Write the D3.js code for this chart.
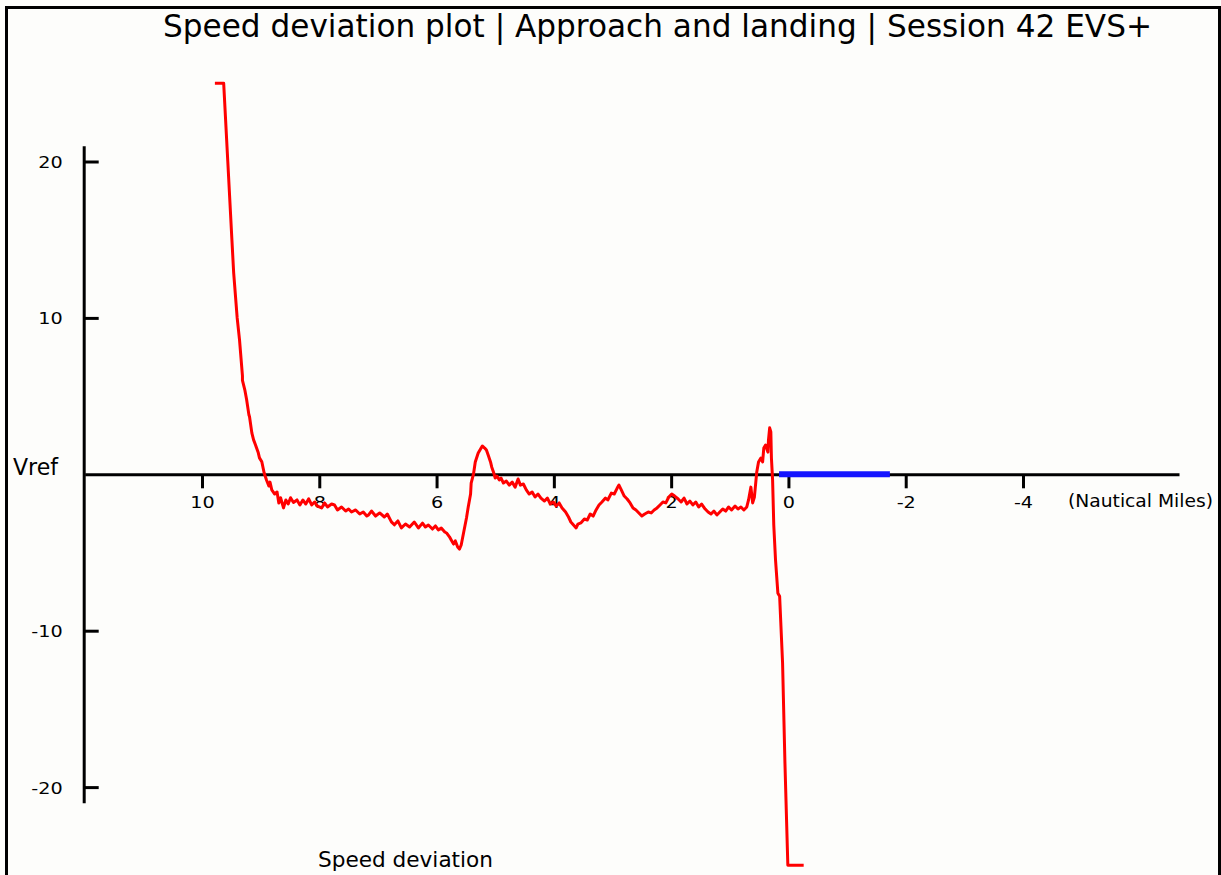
<!DOCTYPE html>
<html>
<head>
<meta charset="utf-8">
<script src="https://cdn.jsdelivr.net/npm/d3@7"></script>
<style>
  html, body { margin: 0; padding: 0; background: #fdfdfb; }
  svg { display: block; }
  text { font-family: "DejaVu Sans", Verdana, sans-serif; fill: #000; }
</style>
</head>
<body>
<svg id="chart" width="1221" height="875"></svg>
<script>
// ---- Data ----
const chartTitle = "Speed deviation plot | Approach and landing | Session 42 EVS+";
const xAxisLabel = "(Nautical Miles)";
const seriesLabel = "Speed deviation";
const zeroLabel = "Vref";
const xTickValues = [10, 8, 6, 4, 2, 0, -2, -4];
const yTickValues = [20, 10, -10, -20];

// red trace: [distance to threshold (NM), speed deviation from Vref (kt)]
const speedTrace = [
[9.78,25],[9.63,25],[9.56,20.0],[9.49,15.0],[9.46,12.9],[9.40,10.0],[9.36,8.6],[9.31,6.3],[9.31,6.0],[9.27,5.4],
[9.24,4.8],[9.20,3.8],[9.19,3.7],[9.15,2.65],[9.12,2.2],[9.09,1.9],[9.04,1.37],[9.02,1.05],[8.98,0.8],[8.94,0.08],
[8.90,-0.36],[8.86,-0.75],[8.84,-0.5],[8.81,-1.0],[8.76,-1.26],[8.72,-1.13],[8.69,-1.84],[8.66,-1.5],[8.61,-2.15],[8.57,-1.64],
[8.53,-1.9],[8.49,-1.5],[8.44,-1.8],[8.38,-1.64],[8.33,-1.96],[8.28,-1.64],[8.23,-1.9],[8.18,-1.57],[8.13,-1.96],[8.08,-1.77],
[8.03,-2.03],[7.96,-2.15],[7.91,-1.83],[7.86,-2.09],[7.79,-1.9],[7.74,-1.96],[7.69,-2.28],[7.62,-2.09],[7.55,-2.35],[7.50,-2.22],
[7.45,-2.41],[7.38,-2.28],[7.31,-2.54],[7.25,-2.41],[7.19,-2.67],[7.16,-2.6],[7.11,-2.35],[7.04,-2.67],[6.97,-2.47],[6.89,-2.73],
[6.84,-2.54],[6.77,-3.04],[6.72,-3.23],[6.66,-2.98],[6.60,-3.43],[6.53,-3.18],[6.46,-3.37],[6.38,-3.05],[6.31,-3.43],[6.24,-3.12],
[6.19,-3.37],[6.14,-3.24],[6.07,-3.5],[6.02,-3.3],[5.97,-3.56],[5.92,-3.43],[5.86,-3.69],[5.83,-3.75],[5.78,-4.0],[5.75,-4.2],
[5.71,-4.46],[5.68,-4.26],[5.64,-4.65],[5.61,-4.78],[5.58,-4.52],[5.54,-3.75],[5.49,-2.79],[5.46,-2.09],[5.42,-1.26],[5.41,-0.56],
[5.37,0.02],[5.34,0.79],[5.29,1.36],[5.25,1.62],[5.22,1.81],[5.18,1.68],[5.15,1.55],[5.12,1.23],[5.08,0.79],[5.06,0.47],
[5.03,0.15],[5.00,-0.24],[4.97,-0.11],[4.93,-0.36],[4.90,-0.24],[4.86,-0.56],[4.81,-0.43],[4.76,-0.69],[4.71,-0.5],[4.66,-0.82],
[4.61,-0.3],[4.57,-0.69],[4.52,-0.62],[4.47,-1.0],[4.42,-1.26],[4.37,-1.13],[4.32,-1.45],[4.27,-1.26],[4.22,-1.52],[4.16,-1.71],
[4.11,-1.52],[4.06,-1.9],[4.01,-1.77],[3.96,-2.03],[3.91,-1.83],[3.86,-2.15],[3.80,-2.41],[3.75,-2.73],[3.71,-3.05],[3.65,-3.3],
[3.62,-3.43],[3.59,-3.18],[3.54,-3.11],[3.48,-2.86],[3.43,-2.92],[3.38,-2.54],[3.33,-2.67],[3.28,-2.28],[3.23,-1.96],[3.18,-1.77],
[3.12,-1.52],[3.08,-1.64],[3.02,-1.2],[2.97,-1.26],[2.92,-0.88],[2.89,-0.69],[2.85,-1.0],[2.80,-1.39],[2.75,-1.58],[2.70,-1.83],
[2.65,-2.15],[2.60,-2.28],[2.55,-2.47],[2.50,-2.67],[2.45,-2.54],[2.39,-2.41],[2.34,-2.47],[2.29,-2.28],[2.24,-2.15],[2.19,-1.96],
[2.14,-1.77],[2.09,-1.83],[2.04,-1.45],[1.99,-1.26],[1.94,-1.39],[1.88,-1.58],[1.83,-1.77],[1.78,-1.52],[1.73,-1.9],[1.68,-1.71],
[1.63,-1.96],[1.58,-1.77],[1.53,-2.09],[1.48,-1.9],[1.42,-2.22],[1.37,-2.41],[1.32,-2.54],[1.27,-2.35],[1.22,-2.6],[1.17,-2.41],
[1.12,-2.22],[1.07,-2.35],[1.02,-2.09],[0.97,-2.28],[0.91,-2.03],[0.86,-2.22],[0.81,-2.09],[0.76,-2.28],[0.71,-2.09],[0.68,-1.64],
[0.64,-0.82],[0.61,-1.83],[0.58,-1.45],[0.54,0.15],[0.51,0.79],[0.47,1.04],[0.44,0.79],[0.42,1.68],[0.39,1.87],[0.35,1.42],
[0.34,2.2],[0.32,2.97],[0.30,2.71],[0.29,1.04],[0.27,-0.36],[0.25,-3.24],[0.22,-5.48],[0.18,-7.6],[0.15,-7.8],[0.10,-12.05],
[0.06,-18.4],[0.01,-25],[-0.26,-25]
];

// blue segment (rollout at Vref)
const rolloutNM = [0.16, -1.73];
const rolloutDev = [0, 0];

// ---- Drawing ----
const svg = d3.select("#chart");

// scales
const x = d3.scaleLinear().domain([12, -6.66]).range([84.7, 1179]);
const y = d3.scaleLinear().domain([-25, 25]).range([865.3, 83.3]);
const xAxisScale = x.copy();
const yAxisScale = d3.scaleLinear().domain([-21, 21]).range([y(-21), y(21)]);

// frame
svg.append("rect")
  .attr("x", 6.5).attr("y", 7.5)
  .attr("width", 1213).attr("height", 900)
  .attr("fill", "none").attr("stroke", "#000").attr("stroke-width", 3);

function stretch(sel, factor) {
  sel.each(function () {
    const w = this.getComputedTextLength();
    d3.select(this).attr("textLength", w * factor).attr("lengthAdjust", "spacingAndGlyphs");
  });
}
function fitWidth(sel, width) {
  sel.attr("textLength", width).attr("lengthAdjust", "spacingAndGlyphs");
}

// y axis
const yAxisG = svg.append("g")
  .attr("transform", `translate(${x(12) - 1},0)`)
  .call(d3.axisLeft(yAxisScale)
    .tickValues(yTickValues)
    .tickFormat(d => String(d))
    .tickSize(-15)
    .tickSizeOuter(0)
    .tickPadding(21));
yAxisG.select(".domain").attr("stroke", "#000").attr("stroke-width", 3);
yAxisG.selectAll(".tick line").attr("stroke", "#000").attr("stroke-width", 3);
yAxisG.selectAll(".tick text")
  .attr("dy", null).attr("y", 6)
  .style("font-family", "'DejaVu Sans', Verdana, sans-serif")
  .style("font-size", "16px")
  .attr("fill", "#000");
stretch(yAxisG.selectAll(".tick text"), 1.2);

// x axis
const xAxisG = svg.append("g")
  .attr("transform", `translate(0,${y(0)})`)
  .call(d3.axisBottom(xAxisScale)
    .tickValues(xTickValues)
    .tickFormat(d => String(d))
    .tickSize(14)
    .tickSizeOuter(0));
xAxisG.select(".domain").attr("stroke", "#000").attr("stroke-width", 3);
xAxisG.selectAll(".tick line").attr("stroke", "#000").attr("stroke-width", 3);
xAxisG.selectAll(".tick text")
  .attr("dy", null).attr("y", 33.5)
  .style("font-family", "'DejaVu Sans', Verdana, sans-serif")
  .style("font-size", "16px")
  .attr("fill", "#000");
stretch(xAxisG.selectAll(".tick text"), 1.2);

// texts
svg.append("text")
  .attr("x", 163).attr("y", 37)
  .style("font-size", "32px")
  .text(chartTitle)
  .call(fitWidth, 989);

svg.append("text")
  .attr("x", 13).attr("y", 475)
  .style("font-size", "23px")
  .text(zeroLabel)
  .call(fitWidth, 45);

svg.append("text")
  .attr("x", 1068).attr("y", 507)
  .style("font-size", "17px")
  .text(xAxisLabel)
  .call(fitWidth, 145);

svg.append("text")
  .attr("x", 318).attr("y", 867)
  .style("font-size", "22px")
  .text(seriesLabel)
  .call(fitWidth, 175);

// blue rollout segment
const rollout = rolloutNM.map((d, i) => [d, rolloutDev[i]]);
svg.append("path")
  .datum(rollout)
  .attr("fill", "none")
  .attr("stroke", "#1414ff")
  .attr("stroke-width", 6)
  .attr("d", d3.line().x(d => x(d[0])).y(d => y(d[1])));

// red speed deviation trace
svg.append("path")
  .datum(speedTrace)
  .attr("fill", "none")
  .attr("stroke", "#ff0000")
  .attr("stroke-width", 3)
  .attr("stroke-linejoin", "round")
  .attr("d", d3.line().x(d => x(d[0])).y(d => y(d[1])));
</script>
</body>
</html>
